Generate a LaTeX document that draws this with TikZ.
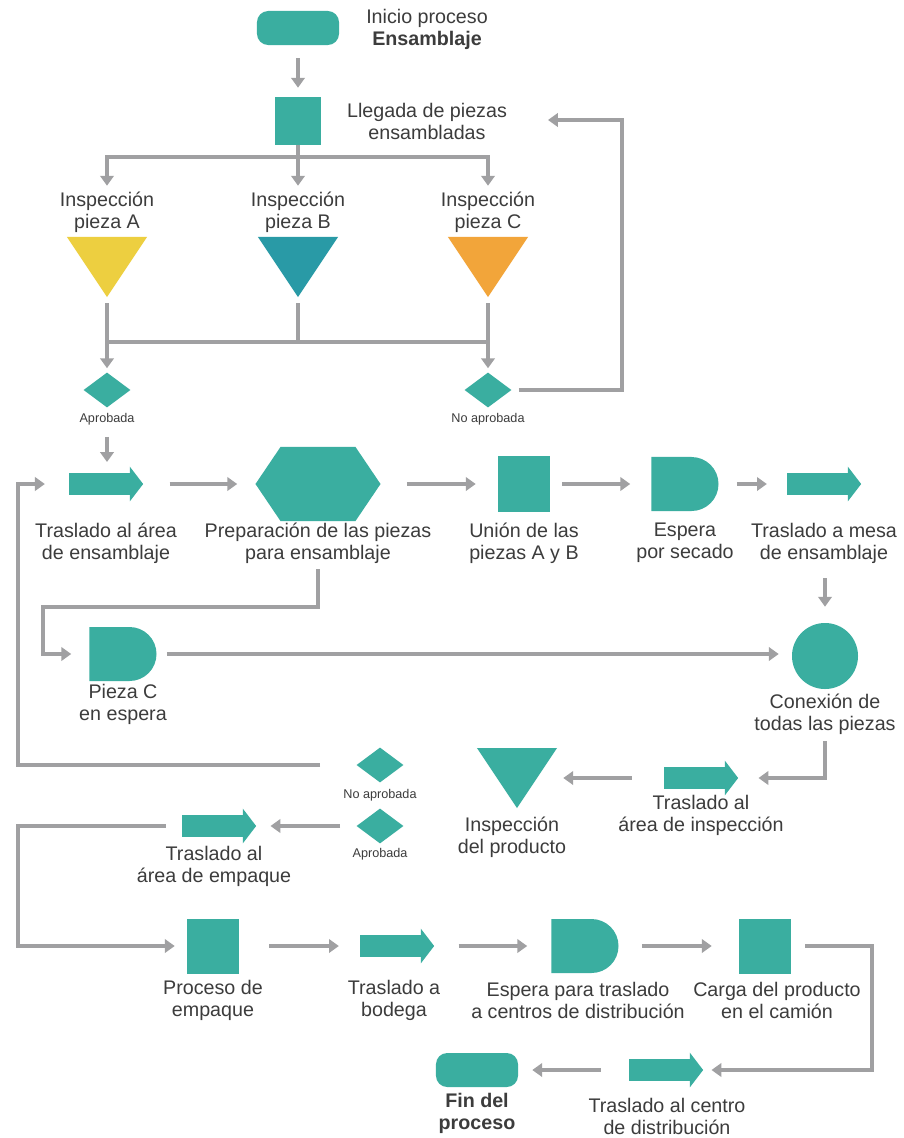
\documentclass[tikz,border=0pt]{standalone}
\usepackage{fontspec}
\setmainfont{Liberation Sans}
\usepackage{tikz}
\usetikzlibrary{arrows.meta,shapes.geometric,shapes.arrows,shapes.misc}
\definecolor{flowteal}{RGB}{58, 174, 160}
\definecolor{flowyellow}{RGB}{237, 207, 64}
\definecolor{flowblue}{RGB}{41, 154, 166}
\definecolor{floworange}{RGB}{242, 165, 58}
\definecolor{flowgray}{RGB}{160, 160, 162}
\definecolor{txtgray}{RGB}{60, 60, 60}

\begin{document}
\begin{tikzpicture}[x=0.025cm, y=-0.025cm,
      opbox/.style={fill=flowteal, inner sep=0pt,
                    minimum width=1.3cm, minimum height=1.375cm},
      termbox/.style={fill=flowteal, rounded corners=8pt, inner sep=0pt,
                      minimum width=2.05cm, minimum height=0.85cm},
      waitbox/.style={rounded rectangle, rounded rectangle left arc=none,
                      fill=flowteal, inner sep=0pt,
                      minimum width=1.675cm, minimum height=1.35cm},
      movbox/.style={single arrow, fill=flowteal,
                     inner xsep=0pt, inner ysep=0.2625cm,
                     minimum height=1.85cm, minimum width=0.86cm,
                     single arrow head extend=0.1625cm,
                     single arrow tip angle=105},
      decbox/.style={diamond, fill=flowteal, inner sep=0pt,
                     minimum width=1.175cm, minimum height=0.875cm},
      connbox/.style={circle, fill=flowteal, inner sep=0pt, minimum size=1.65cm},
      insbox/.style={fill=white, inner sep=0pt,
                     minimum width=2cm, minimum height=1.5cm,
                     path picture={\fill[#1]
                       (path picture bounding box.north west)
                       -- (path picture bounding box.north east)
                       -- (path picture bounding box.south) -- cycle;}},
      prepbox/.style={fill=white, inner sep=0pt,
                      minimum width=3.125cm, minimum height=1.85cm,
                      path picture={\fill[flowteal]
                        (path picture bounding box.west)
                        -- ([xshift=0.625cm]path picture bounding box.north west)
                        -- ([xshift=-0.625cm]path picture bounding box.north east)
                        -- (path picture bounding box.east)
                        -- ([xshift=-0.625cm]path picture bounding box.south east)
                        -- ([xshift=0.625cm]path picture bounding box.south west)
                        -- cycle;}},
      lbl/.style={font=\fontsize{14}{15.6}\selectfont, text=txtgray,
                  align=center, inner sep=0pt},
      tinylbl/.style={font=\fontsize{9}{11}\selectfont, text=txtgray, inner sep=0pt},
      link/.style={draw=flowgray, line width=2.8pt},
      flow/.style={link, -{Triangle[length=7pt, width=9.5pt]}},
    ]
    \path[use as bounding box, fill=white] (0,0) rectangle (903,1138);

    %% start and arrival
    \node[termbox] (start) at (298,28) {};
    \node[lbl] (startlbl) at (427,29) {Inicio proceso\\\textbf{Ensamblaje}};
    \node[opbox, minimum width=1.125cm, minimum height=1.2cm] (llegada) at (298,121) {};
    \node[lbl] (llegadalbl) at (427,121) {Llegada de piezas\\ensambladas};
    \coordinate (reinsp) at (548,120);
    \draw[flow] ([yshift=-0.325cm]start.south) -- ([yshift=0.225cm]llegada.north);

    %% three inspections
    \node[insbox=flowyellow] (insA) at (107,267) {};
    \node[insbox=flowblue]   (insB) at (298,267) {};
    \node[insbox=floworange] (insC) at (488,267) {};
    \node[lbl] (insAlbl) at (107,212) {Inspección\\pieza A};
    \node[lbl] (insBlbl) at (298,212) {Inspección\\pieza B};
    \node[lbl] (insClbl) at (488,212) {Inspección\\pieza C};
    \coordinate (fork) at (298,157);
    \coordinate (join) at (298,342);
    \draw[link] (llegada.south) -- (fork);
    \draw[flow] (fork) -| ([yshift=1.275cm]insA.north);
    \draw[flow] (fork) -- ([yshift=1.275cm]insB.north);
    \draw[flow] (fork) -| ([yshift=1.275cm]insC.north);

    %% results of the inspections
    \node[decbox] (decA) at (107,390) {};
    \node[decbox] (decC) at (488,390) {};
    \node[tinylbl] (decAlbl) at (107,419) {Aprobada};
    \node[tinylbl] (decClbl) at (488,419) {No aprobada};
    \draw[link] ([yshift=-0.15cm]insB.south) -- (join);
    \draw[link] (insA.south |- join) -- (insC.south |- join);
    \draw[flow] ([yshift=-0.15cm]insA.south) -- ([yshift=0.1cm]decA.north);
    \draw[flow] ([yshift=-0.15cm]insC.south) -- ([yshift=0.1cm]decC.north);
    \draw[flow] ([xshift=0.18cm]decC.east) -- ++(103,0) |- (reinsp);

    %% assembly row
    \node[movbox] (mov1) at (102,484) {};
    \node[prepbox] (prep) at (318,484) {};
    \node[opbox] (union) at (524,484) {};
    \node[waitbox] (secado) at (685,484) {};
    \node[movbox] (mov2) at (820,484) {};
    \node[lbl] (mov1lbl) at (106,543) {Traslado al área\\de ensamblaje};
    \node[lbl] (preplbl) at (318,543) {Preparación de las piezas\\para ensamblaje};
    \node[lbl] (unionlbl) at (524,543) {Unión de las\\piezas A y B};
    \node[lbl] (secadolbl) at (685,543) {Espera\\por secado};
    \node[lbl] (mov2lbl) at (824,543) {Traslado a mesa\\de ensamblaje};
    \draw[flow] ([yshift=-0.725cm]decA.south) -- ([yshift=0.55cm]mov1.center -| decA.south);
    \draw[flow] ([xshift=0.65cm]mov1.tip) -- ([xshift=-0.45cm]prep.west);
    \draw[flow] ([xshift=0.65cm]prep.east) -- ([xshift=-0.55cm]union.west);
    \draw[flow] ([xshift=0.3cm]union.east) -- ([xshift=-0.525cm]secado.west);
    \draw[flow] ([xshift=0.45cm]secado.east) -- ([xshift=-0.5cm]mov2.tail);

    %% piece C waits, then all pieces are joined
    \node[waitbox] (piezaC) at (123,654) {};
    \node[lbl] (piezaClbl) at (123,704) {Pieza C\\en espera};
    \node[connbox] (conexion) at (825,656) {};
    \node[lbl] (conexionlbl) at (825,714) {Conexión de\\todas las piezas};
    \draw[flow] ([yshift=-1.2cm]prep.south) -- ++(0,38) -| ([xshift=-1.15cm]piezaC.west)
      -- ([xshift=-0.45cm]piezaC.west);
    \draw[flow] ([xshift=0.25cm]piezaC.east) -- ([xshift=-0.325cm]piezaC.east -| conexion.west);
    \draw[flow] ([yshift=-2.35cm]mov2.center -| conexion.north) -- ([yshift=0.4cm]conexion.north);

    %% product inspection
    \node[movbox] (mov3) at (697,778) {};
    \node[lbl] (mov3lbl) at (701,815) {Traslado al\\área de inspección};
    \node[insbox=flowteal] (insprod) at (517,778) {};
    \node[lbl] (insprodlbl) at (512,837) {Inspección\\del producto};
    \node[decbox] (decNo) at (380,765) {};
    \node[decbox] (decSi) at (380,826) {};
    \node[tinylbl] (decNolbl) at (380,795) {No aprobada};
    \node[tinylbl] (decSilbl) at (380,854) {Aprobada};
    \draw[flow] ([yshift=-1.3cm]conexion.south) |- ([xshift=0.5cm]mov3.tip);
    \draw[flow] ([xshift=-0.8cm]mov3.tail) -- ([xshift=0.15cm]insprod.east);
    \draw[flow] ([xshift=-0.9cm]decNo.west) -| ([xshift=-1.275cm]mov1.tail)
      -- ([xshift=-0.6cm]mov1.tail);

    %% packing
    \node[movbox] (movE) at (215,826) {};
    \node[lbl] (movElbl) at (214,866) {Traslado al\\área de empaque};
    \draw[flow] ([xshift=-0.4cm]decSi.west) -- ([xshift=0.35cm]movE.tip);

    %% packing and shipping row
    \node[opbox] (proceso) at (213,946) {};
    \node[movbox] (movB) at (393,946) {};
    \node[waitbox] (espera2) at (585,946) {};
    \node[opbox] (carga) at (765,946) {};
    \node[lbl] (procesolbl) at (213,1000) {Proceso de\\empaque};
    \node[lbl] (movBlbl) at (394,1000) {Traslado a\\bodega};
    \node[lbl] (espera2lbl) at (578,1000) {Espera para traslado\\a centros de distribución};
    \node[lbl] (cargalbl) at (777,1000) {Carga del producto\\en el camión};
    \draw[flow] ([xshift=-0.4cm]movE.tail) -| ([xshift=-4.225cm]proceso.west)
      -- ([xshift=-0.3cm]proceso.west);
    \draw[flow] ([xshift=0.75cm]proceso.east) -- ([xshift=-0.525cm]movB.tail);
    \draw[flow] ([xshift=0.6cm]movB.tip) -- ([xshift=-0.6cm]espera2.west);
    \draw[flow] ([xshift=0.575cm]espera2.east) -- ([xshift=-0.675cm]carga.west);

    %% delivery and end
    \node[movbox] (movC) at (662,1070) {};
    \node[lbl] (movClbl) at (667,1116) {Traslado al centro\\de distribución};
    \node[termbox] (fin) at (477,1070) {};
    \node[lbl] (finlbl) at (477,1113) {\textbf{Fin del}\\\textbf{proceso}};
    \draw[flow] ([xshift=0.35cm]carga.east) -- ++(67,0) |- ([xshift=0.2cm]movC.tip);
    \draw[flow] ([xshift=-0.7cm]movC.tail) -- ([xshift=0.35cm]fin.east);
\end{tikzpicture}
\end{document}
